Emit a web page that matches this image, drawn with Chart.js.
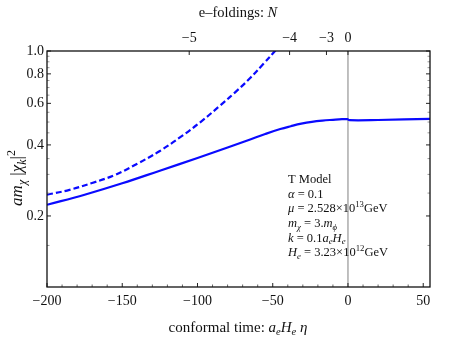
<!DOCTYPE html>
<html>
<head>
<meta charset="utf-8">
<script src="https://cdn.jsdelivr.net/npm/chart.js@4.4.0/dist/chart.umd.min.js"></script>
<style>
  html, body { margin: 0; padding: 0; background: #fff; }
</style>
</head>
<body>
<canvas id="chart" width="458" height="337"></canvas>
<script>
// conformal time a_e H_e eta  ->  a m_chi |chi_k|^2
const etaSolid = [-200, -175, -150, -125, -100, -80, -65, -55, -45, -38, -31, -24, -17, -10, -4, -0.5, 1, 20, 54.5];
const ampSolid = [0.223, 0.246, 0.275, 0.311, 0.352, 0.390, 0.422, 0.445, 0.467, 0.480, 0.492, 0.501, 0.507, 0.511, 0.514, 0.514, 0.509, 0.510, 0.516];

const etaDashed = [-200, -185, -170, -155, -140, -125, -110, -98, -85, -75, -65, -56, -48.5, -44];
const ampDashed = [0.246, 0.258, 0.276, 0.298, 0.333, 0.377, 0.438, 0.50, 0.587, 0.668, 0.768, 0.885, 1.0, 1.09];

// axes
const etaTicks = [-200, -150, -100, -50, 0, 50];
const etaMinor = [-190, -180, -170, -160, -140, -130, -120, -110, -90, -80, -70, -60, -40, -30, -20, -10, 10, 20, 30, 40];
const nTickPos = [-105.5, -38.8, -14.3, 0];
const nTickLabels = ['−5', '−4', '−3', '0'];
const ampTicks = [0.2, 0.4, 0.6, 0.8, 1.0];
const ampMinor = [0.15, 0.25, 0.3, 0.35, 0.45, 0.5, 0.55, 0.65, 0.7, 0.75, 0.85, 0.9, 0.95];

const serif = "'Liberation Serif', 'DejaVu Serif', serif";
const tickFont = { family: serif, size: 14 };

// little helper for text with italics, subscripts and superscripts
function setFont(ctx, p, size) {
    const fs = p.s ? size * 0.7 : size;
    ctx.font = (p.i ? 'italic ' : '') + fs + 'px ' + serif;
}
function richWidth(ctx, parts, size) {
    let w = 0;
    parts.forEach(p => { setFont(ctx, p, size); w += ctx.measureText(p.t).width; });
    return w;
}
function drawRich(ctx, parts, x, y, size) {
    parts.forEach(p => {
        setFont(ctx, p, size);
        const dy = p.s === 'sub' ? size * 0.28 : p.s === 'sup' ? -size * 0.38 : 0;
        ctx.fillText(p.t, x, y + dy);
        x += ctx.measureText(p.t).width;
    });
}

const topTitle = [{t: 'e–foldings: '}, {t: 'N', i: 1}];
const bottomTitle = [{t: 'conformal time: '}, {t: 'a', i: 1}, {t: 'e', i: 1, s: 'sub'}, {t: 'H', i: 1}, {t: 'e', i: 1, s: 'sub'}, {t: ' η', i: 1}];
const yTitle = [{t: 'am', i: 1}, {t: 'χ', i: 1, s: 'sub'}, {t: ' |'}, {t: 'χ', i: 1}, {t: 'k', i: 1, s: 'sub'}, {t: '|'}, {t: '2', s: 'sup'}];
const noteLines = [
    [{t: 'T Model'}],
    [{t: 'α', i: 1}, {t: ' = 0.1'}],
    [{t: 'μ', i: 1}, {t: ' = 2.528×10'}, {t: '13', s: 'sup'}, {t: 'GeV'}],
    [{t: 'm', i: 1}, {t: 'χ', i: 1, s: 'sub'}, {t: ' = 3.'}, {t: 'm', i: 1}, {t: 'ϕ', i: 1, s: 'sub'}],
    [{t: 'k', i: 1}, {t: ' = 0.1'}, {t: 'a', i: 1}, {t: 'e', i: 1, s: 'sub'}, {t: 'H', i: 1}, {t: 'e', i: 1, s: 'sub'}],
    [{t: 'H', i: 1}, {t: 'e', i: 1, s: 'sub'}, {t: ' = 3.23×10'}, {t: '12', s: 'sup'}, {t: 'GeV'}]
];

const framePlugin = {
    id: 'frame',
    beforeDatasetsDraw(chart) {
        const { ctx, chartArea: a, scales } = chart;
        const x0 = scales.x.getPixelForValue(0);
        ctx.save();
        ctx.strokeStyle = '#808080';
        ctx.lineWidth = 1;
        ctx.beginPath();
        ctx.moveTo(x0, a.top);
        ctx.lineTo(x0, a.bottom);
        ctx.stroke();
        ctx.restore();
    },
    afterDraw(chart) {
        const { ctx, chartArea: a, scales } = chart;
        ctx.save();

        // ticks pointing inward
        function hTick(v, len, scale, yEdge, dir, color) {
            const px = scale.getPixelForValue(v);
            ctx.strokeStyle = color;
            ctx.beginPath();
            ctx.moveTo(px, yEdge);
            ctx.lineTo(px, yEdge + dir * len);
            ctx.stroke();
        }
        function vTick(v, len, xEdge, dir, color) {
            const py = scales.y.getPixelForValue(v);
            ctx.strokeStyle = color;
            ctx.beginPath();
            ctx.moveTo(xEdge, py);
            ctx.lineTo(xEdge + dir * len, py);
            ctx.stroke();
        }
        ctx.lineWidth = 1;
        etaTicks.forEach(v => hTick(v, 4, scales.x, a.bottom, -1, '#222'));
        etaMinor.forEach(v => hTick(v, 2.5, scales.x, a.bottom, -1, '#666'));
        nTickPos.forEach(v => hTick(v, 4, scales.x2, a.top, 1, '#222'));
        ampTicks.forEach(v => { vTick(v, 4, a.left, 1, '#222'); vTick(v, 4, a.right, -1, '#222'); });
        ampMinor.forEach(v => { vTick(v, 2.5, a.left, 1, '#999'); vTick(v, 2.5, a.right, -1, '#999'); });

        // frame
        ctx.strokeStyle = '#111';
        ctx.lineWidth = 1.3;
        ctx.strokeRect(a.left, a.top, a.right - a.left, a.bottom - a.top);

        // titles
        ctx.fillStyle = '#111';
        ctx.textBaseline = 'middle';
        ctx.textAlign = 'left';
        let w = richWidth(ctx, topTitle, 14.5);
        drawRich(ctx, topTitle, 238 - w / 2, 13, 14.5);
        w = richWidth(ctx, bottomTitle, 15);
        drawRich(ctx, bottomTitle, 238 - w / 2, 328, 15);

        ctx.save();
        ctx.translate(18, 178);
        ctx.rotate(-Math.PI / 2);
        w = richWidth(ctx, yTitle, 17);
        drawRich(ctx, yTitle, -w / 2, 0, 17);
        ctx.restore();

        // parameter box
        noteLines.forEach((line, i) => drawRich(ctx, line, 288, 180 + i * 14.6, 12.5));

        ctx.restore();
    }
};

const ctx = document.getElementById('chart').getContext('2d');

new Chart(ctx, {
    type: 'line',
    data: {
        datasets: [
            {
                data: etaSolid.map((x, i) => ({ x: x, y: ampSolid[i] })),
                borderColor: '#0a0aff',
                borderWidth: 2.2,
                pointRadius: 0,
                tension: 0.4,
                fill: false
            },
            {
                data: etaDashed.map((x, i) => ({ x: x, y: ampDashed[i] })),
                borderColor: '#0a0aff',
                borderWidth: 2.2,
                borderDash: [6, 3],
                pointRadius: 0,
                tension: 0.4,
                fill: false
            }
        ]
    },
    options: {
        responsive: false,
        animation: false,
        layout: { padding: { left: 0, right: 28, top: 0, bottom: 0 } },
        plugins: { legend: { display: false }, tooltip: { enabled: false } },
        scales: {
            x: {
                type: 'linear',
                position: 'bottom',
                min: -200,
                max: 54.5,
                grid: { display: false, drawTicks: false },
                border: { display: false },
                ticks: {
                    font: tickFont, color: '#111', padding: 6, maxRotation: 0, autoSkip: false,
                    callback: v => String(v).replace('-', '−')
                },
                afterBuildTicks: s => { s.ticks = etaTicks.map(v => ({ value: v })); },
                afterFit: s => { s.height = 50; }
            },
            x2: {
                type: 'linear',
                position: 'top',
                min: -200,
                max: 54.5,
                grid: { display: false, drawTicks: false },
                border: { display: false },
                ticks: {
                    font: tickFont, color: '#111', padding: 4, maxRotation: 0, autoSkip: false,
                    callback: (v, i) => nTickLabels[i]
                },
                afterBuildTicks: s => { s.ticks = nTickPos.map(v => ({ value: v })); },
                afterFit: s => { s.height = 51; }
            },
            y: {
                type: 'logarithmic',
                min: 0.1,
                max: 1.0,
                grid: { display: false, drawTicks: false },
                border: { display: false },
                ticks: {
                    font: tickFont, color: '#111', padding: 3, autoSkip: false,
                    callback: v => Number(v).toFixed(1)
                },
                afterBuildTicks: s => { s.ticks = ampTicks.map(v => ({ value: v })); },
                afterFit: s => { s.width = 47; }
            }
        }
    },
    plugins: [framePlugin]
});
</script>
</body>
</html>
